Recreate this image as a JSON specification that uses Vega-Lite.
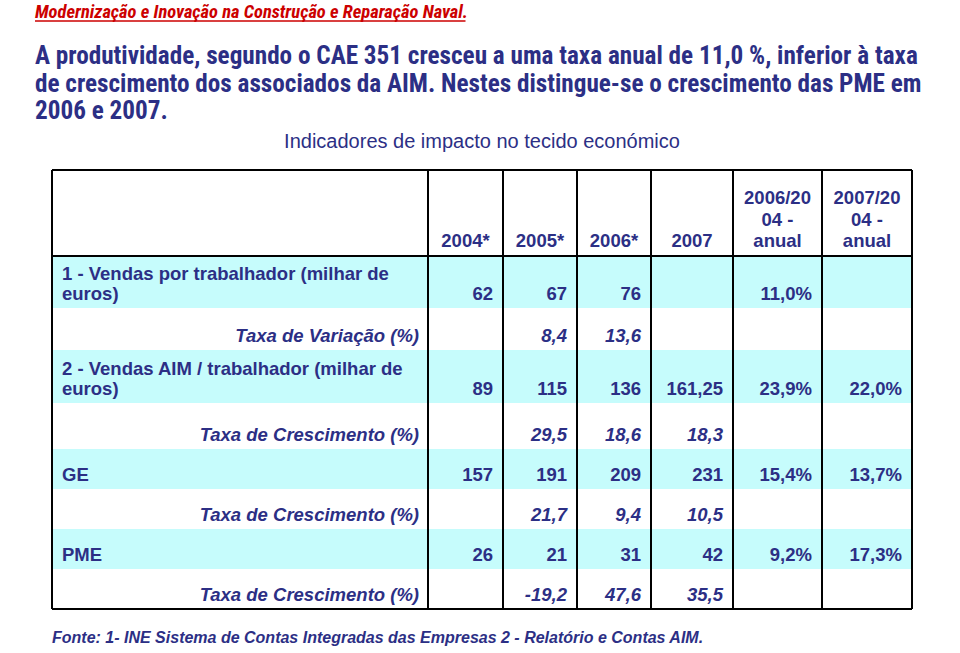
{
  "$schema": "https://vega.github.io/schema/vega-lite/v6.json",
  "width": 960,
  "height": 653,
  "autosize": {"type": "none"},
  "padding": 0,
  "background": "white",
  "config": {"view": {"stroke": null}},
  "datasets": {
    "bands": [{"row": 1}, {"row": 3}, {"row": 5}, {"row": 7}],
    "colEdges": [{"edge": 0}, {"edge": 1}, {"edge": 2}, {"edge": 3}, {"edge": 4}, {"edge": 5}, {"edge": 6}, {"edge": 7}],
    "rowEdges": [{"edge": 0}, {"edge": 1}, {"edge": 9}],
    "header": [
      {"col": 1, "text": "2004*"},
      {"col": 2, "text": "2005*"},
      {"col": 3, "text": "2006*"},
      {"col": 4, "text": "2007"},
      {"col": 5, "text": "2006/20\n04 -\nanual"},
      {"col": 6, "text": "2007/20\n04 -\nanual"}
    ],
    "labels": [
      {"row": 1, "kind": "main", "text": "1 - Vendas por trabalhador (milhar de\neuros)"},
      {"row": 2, "kind": "rate", "text": "Taxa de Variação (%)"},
      {"row": 3, "kind": "main", "text": "2 - Vendas AIM / trabalhador (milhar de\neuros)"},
      {"row": 4, "kind": "rate", "text": "Taxa de Crescimento (%)"},
      {"row": 5, "kind": "main", "text": "GE"},
      {"row": 6, "kind": "rate", "text": "Taxa de Crescimento (%)"},
      {"row": 7, "kind": "main", "text": "PME"},
      {"row": 8, "kind": "rate", "text": "Taxa de Crescimento (%)"}
    ],
    "cells": [
      {"row": 1, "col": 1, "kind": "main", "value": "62"},
      {"row": 1, "col": 2, "kind": "main", "value": "67"},
      {"row": 1, "col": 3, "kind": "main", "value": "76"},
      {"row": 1, "col": 5, "kind": "main", "value": "11,0%"},
      {"row": 2, "col": 2, "kind": "rate", "value": "8,4"},
      {"row": 2, "col": 3, "kind": "rate", "value": "13,6"},
      {"row": 3, "col": 1, "kind": "main", "value": "89"},
      {"row": 3, "col": 2, "kind": "main", "value": "115"},
      {"row": 3, "col": 3, "kind": "main", "value": "136"},
      {"row": 3, "col": 4, "kind": "main", "value": "161,25"},
      {"row": 3, "col": 5, "kind": "main", "value": "23,9%"},
      {"row": 3, "col": 6, "kind": "main", "value": "22,0%"},
      {"row": 4, "col": 2, "kind": "rate", "value": "29,5"},
      {"row": 4, "col": 3, "kind": "rate", "value": "18,6"},
      {"row": 4, "col": 4, "kind": "rate", "value": "18,3"},
      {"row": 5, "col": 1, "kind": "main", "value": "157"},
      {"row": 5, "col": 2, "kind": "main", "value": "191"},
      {"row": 5, "col": 3, "kind": "main", "value": "209"},
      {"row": 5, "col": 4, "kind": "main", "value": "231"},
      {"row": 5, "col": 5, "kind": "main", "value": "15,4%"},
      {"row": 5, "col": 6, "kind": "main", "value": "13,7%"},
      {"row": 6, "col": 2, "kind": "rate", "value": "21,7"},
      {"row": 6, "col": 3, "kind": "rate", "value": "9,4"},
      {"row": 6, "col": 4, "kind": "rate", "value": "10,5"},
      {"row": 7, "col": 1, "kind": "main", "value": "26"},
      {"row": 7, "col": 2, "kind": "main", "value": "21"},
      {"row": 7, "col": 3, "kind": "main", "value": "31"},
      {"row": 7, "col": 4, "kind": "main", "value": "42"},
      {"row": 7, "col": 5, "kind": "main", "value": "9,2%"},
      {"row": 7, "col": 6, "kind": "main", "value": "17,3%"},
      {"row": 8, "col": 2, "kind": "rate", "value": "-19,2"},
      {"row": 8, "col": 3, "kind": "rate", "value": "47,6"},
      {"row": 8, "col": 4, "kind": "rate", "value": "35,5"}
    ]
  },
  "layer": [
    {
      "data": {"name": "bands"},
      "transform": [{"calculate": "datum.row + 1", "as": "next"}],
      "mark": {"type": "rect", "fill": "#c6fcfc"},
      "encoding": {
        "x": {"datum": 0, "type": "quantitative", "axis": null, "scale": {"type": "linear", "domain": [-1, 0, 1, 2, 3, 4, 5, 6, 7], "range": [35, 52, 428, 503, 577, 651, 733, 822, 912], "zero": false, "nice": false}},
        "x2": {"datum": 7},
        "y": {"field": "row", "type": "quantitative", "axis": null, "scale": {"type": "linear", "domain": [-5, -4, -1, 0, 1, 2, 3, 4, 5, 6, 7, 8, 9, 10], "range": [18, 64, 148, 170, 256, 308, 350, 403, 449, 489, 529, 569, 609, 643], "zero": false, "nice": false}},
        "y2": {"field": "next"}
      }
    },
    {
      "data": {"name": "colEdges"},
      "mark": {"type": "rule", "stroke": "#000000", "strokeWidth": 2},
      "encoding": {
        "x": {"field": "edge", "type": "quantitative"},
        "y": {"datum": 0, "type": "quantitative"},
        "y2": {"datum": 9}
      }
    },
    {
      "data": {"name": "rowEdges"},
      "mark": {"type": "rule", "stroke": "#000000", "strokeWidth": 2},
      "encoding": {
        "y": {"field": "edge", "type": "quantitative"},
        "x": {"datum": 0, "type": "quantitative"},
        "x2": {"datum": 7}
      }
    },
    {
      "data": {"name": "header"},
      "transform": [{"filter": "!test(/\\n/, datum.text)"}, {"calculate": "datum.col + 0.5", "as": "mid"}],
      "mark": {"type": "text", "font": "Liberation Sans", "fontWeight": "bold", "fontSize": 18.5, "color": "#2c2f85", "align": "center", "baseline": "alphabetic", "dy": -9},
      "encoding": {
        "x": {"field": "mid", "type": "quantitative"},
        "y": {"datum": 1, "type": "quantitative"},
        "text": {"field": "text"}
      }
    },
    {
      "data": {"name": "header"},
      "transform": [{"filter": "test(/\\n/, datum.text)"}, {"calculate": "datum.col + 0.5", "as": "mid"}],
      "mark": {"type": "text", "font": "Liberation Sans", "fontWeight": "bold", "fontSize": 18.5, "color": "#2c2f85", "align": "center", "baseline": "alphabetic", "lineBreak": "\n", "lineHeight": 21.5, "dy": -52},
      "encoding": {
        "x": {"field": "mid", "type": "quantitative"},
        "y": {"datum": 1, "type": "quantitative"},
        "text": {"field": "text"}
      }
    },
    {
      "data": {"name": "labels"},
      "transform": [{"filter": "datum.kind == 'main' && !test(/\\n/, datum.text)"}, {"calculate": "datum.row + 1", "as": "end"}],
      "mark": {"type": "text", "font": "Liberation Sans", "fontWeight": "bold", "fontSize": 18.5, "color": "#2c2f85", "align": "left", "baseline": "alphabetic", "dx": 10, "dy": -8.5},
      "encoding": {
        "x": {"datum": 0, "type": "quantitative"},
        "y": {"field": "end", "type": "quantitative"},
        "text": {"field": "text"}
      }
    },
    {
      "data": {"name": "labels"},
      "transform": [{"filter": "datum.kind == 'main' && test(/\\n/, datum.text)"}, {"calculate": "datum.row + 1", "as": "end"}],
      "mark": {"type": "text", "font": "Liberation Sans", "fontWeight": "bold", "fontSize": 18.5, "color": "#2c2f85", "align": "left", "baseline": "alphabetic", "lineBreak": "\n", "lineHeight": 20, "dx": 10, "dy": -28.5},
      "encoding": {
        "x": {"datum": 0, "type": "quantitative"},
        "y": {"field": "end", "type": "quantitative"},
        "text": {"field": "text"}
      }
    },
    {
      "data": {"name": "labels"},
      "transform": [{"filter": "datum.kind == 'rate'"}, {"calculate": "datum.row + 1", "as": "end"}],
      "mark": {"type": "text", "font": "Liberation Sans", "fontWeight": "bold", "fontStyle": "italic", "fontSize": 18.5, "color": "#2c2f85", "align": "right", "baseline": "alphabetic", "dx": -9, "dy": -8.5},
      "encoding": {
        "x": {"datum": 1, "type": "quantitative"},
        "y": {"field": "end", "type": "quantitative"},
        "text": {"field": "text"}
      }
    },
    {
      "data": {"name": "cells"},
      "transform": [{"filter": "datum.kind == 'main'"}, {"calculate": "datum.row + 1", "as": "end"}, {"calculate": "datum.col + 1", "as": "right"}],
      "mark": {"type": "text", "font": "Liberation Sans", "fontWeight": "bold", "fontSize": 18.5, "color": "#2c2f85", "align": "right", "baseline": "alphabetic", "dx": -10, "dy": -8.5},
      "encoding": {
        "x": {"field": "right", "type": "quantitative"},
        "y": {"field": "end", "type": "quantitative"},
        "text": {"field": "value"}
      }
    },
    {
      "data": {"name": "cells"},
      "transform": [{"filter": "datum.kind == 'rate'"}, {"calculate": "datum.row + 1", "as": "end"}, {"calculate": "datum.col + 1", "as": "right"}],
      "mark": {"type": "text", "font": "Liberation Sans", "fontWeight": "bold", "fontStyle": "italic", "fontSize": 18.5, "color": "#2c2f85", "align": "right", "baseline": "alphabetic", "dx": -10, "dy": -8.5},
      "encoding": {
        "x": {"field": "right", "type": "quantitative"},
        "y": {"field": "end", "type": "quantitative"},
        "text": {"field": "value"}
      }
    },
    {
      "data": {"values": [{"text": "Modernização e Inovação na Construção e Reparação Naval."}]},
      "mark": {"type": "text", "font": "Roboto Condensed, DejaVu Sans Condensed, Liberation Sans", "fontWeight": "bold", "fontStyle": "italic", "fontSize": 18.5, "color": "#cc0000", "align": "left", "baseline": "alphabetic"},
      "encoding": {
        "x": {"datum": -1, "type": "quantitative"},
        "y": {"datum": -5, "type": "quantitative"},
        "text": {"field": "text"}
      }
    },
    {
      "data": {"values": [{"text": "underline"}]},
      "mark": {"type": "rule", "stroke": "#cc0000", "strokeWidth": 1.5, "yOffset": 3},
      "encoding": {
        "x": {"datum": -1, "type": "quantitative"},
        "x2": {"datum": 1.5},
        "y": {"datum": -5, "type": "quantitative"}
      }
    },
    {
      "data": {"values": [{"text": "A produtividade, segundo o CAE 351 cresceu a uma taxa anual de 11,0 %, inferior à taxa\nde crescimento dos associados da AIM. Nestes distingue-se o crescimento das PME em\n2006 e 2007."}]},
      "mark": {"type": "text", "font": "Roboto Condensed, DejaVu Sans Condensed, Liberation Sans", "fontWeight": "bold", "fontSize": 25.2, "color": "#2c2f85", "align": "left", "baseline": "alphabetic", "lineBreak": "\n", "lineHeight": 27.5},
      "encoding": {
        "x": {"datum": -1, "type": "quantitative"},
        "y": {"datum": -4, "type": "quantitative"},
        "text": {"field": "text"}
      }
    },
    {
      "data": {"values": [{"text": "Indicadores de impacto no tecido económico"}]},
      "mark": {"type": "text", "font": "Liberation Sans", "fontSize": 20, "color": "#2c2f85", "align": "center", "baseline": "alphabetic"},
      "encoding": {
        "x": {"datum": 1.72, "type": "quantitative"},
        "y": {"datum": -1, "type": "quantitative"},
        "text": {"field": "text"}
      }
    },
    {
      "data": {"values": [{"text": "Fonte: 1- INE Sistema de Contas Integradas das Empresas 2 - Relatório e Contas AIM."}]},
      "mark": {"type": "text", "font": "Liberation Sans", "fontWeight": "bold", "fontStyle": "italic", "fontSize": 16, "color": "#2c2f85", "align": "left", "baseline": "alphabetic"},
      "encoding": {
        "x": {"datum": 0, "type": "quantitative"},
        "y": {"datum": 10, "type": "quantitative"},
        "text": {"field": "text"}
      }
    }
  ]
}
